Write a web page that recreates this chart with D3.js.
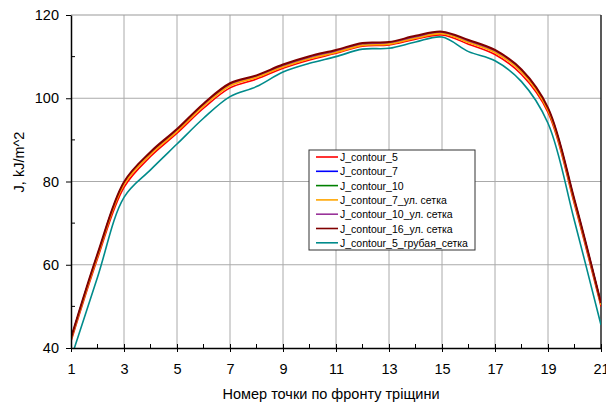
<!DOCTYPE html>
<html>
<head>
  <meta charset="UTF-8">
  <title>J contour</title>
  <script src="https://d3js.org/d3.v7.min.js"></script>
  <style type="text/css">
    body { margin: 0; background: #fff; }
    text { font-family: Arial, "Liberation Sans", sans-serif; fill: #000; }
  </style>
</head>
<body>
  <script type="text/javascript">
    // Data: point number along the crack front
    var points = [1, 2, 3, 4, 5, 6, 7, 8, 9, 10, 11, 12, 13, 14, 15, 16, 17, 18, 19, 20, 21];

    var contour5 = [41.6, 61.5, 78.6, 86.0, 91.6, 97.6, 102.5, 104.6, 107.2, 109.2, 110.8, 112.5, 112.8, 114.2, 115.2, 113.0, 110.5, 105.7, 96.6, 74.5, 50.0];
    var contour7 = [42.2, 62.3, 79.6, 86.8, 92.3, 98.4, 103.3, 105.2, 107.8, 109.8, 111.3, 113.0, 113.3, 114.7, 115.8, 113.7, 111.3, 106.6, 97.4, 75.3, 50.6];
    var contour10 = [42.2, 62.3, 79.6, 86.8, 92.3, 98.4, 103.3, 105.2, 107.8, 109.8, 111.3, 113.0, 113.3, 114.7, 115.8, 113.7, 111.3, 106.6, 97.4, 75.3, 50.6];
    var contour7fine = [42.0, 62.0, 79.3, 86.5, 92.0, 98.1, 103.0, 105.0, 107.5, 109.5, 111.0, 112.7, 113.0, 114.4, 115.5, 113.4, 111.0, 106.3, 97.1, 75.0, 50.4];
    var contour10fine = [42.2, 62.3, 79.6, 86.8, 92.3, 98.4, 103.3, 105.2, 107.8, 109.8, 111.3, 113.0, 113.3, 114.7, 115.8, 113.7, 111.3, 106.6, 97.4, 75.3, 50.6];
    var contour16fine = [42.4, 62.6, 79.9, 87.1, 92.6, 98.7, 103.6, 105.5, 108.1, 110.1, 111.6, 113.3, 113.5, 115.0, 116.0, 114.0, 111.6, 106.9, 97.7, 75.6, 50.8];
    var contour5coarse = [37.5, 57.0, 76.2, 82.8, 89.0, 95.2, 100.4, 102.8, 106.3, 108.4, 110.0, 111.8, 112.0, 113.5, 114.7, 111.2, 109.0, 104.0, 94.0, 70.5, 45.5];

    var seriesNames = ['J_contour_5', 'J_contour_7', 'J_contour_10', 'J_contour_7_ул. сетка',
      'J_contour_10_ул. сетка', 'J_contour_16_ул. сетка', 'J_contour_5_грубая_сетка'];
    var seriesColors = ['#ff0000', '#0000ff', '#008000', '#ffa500', '#993399', '#800000', '#008b8b'];
    var seriesValues = [contour5, contour7, contour10, contour7fine, contour10fine, contour16fine, contour5coarse];

    var xTicks = [1, 3, 5, 7, 9, 11, 13, 15, 17, 19, 21];
    var yTicks = [40, 60, 80, 100, 120];

    var margin = { top: 15, right: 5, bottom: 57, left: 71 },
      width = 606 - margin.left - margin.right,
      height = 405 - margin.top - margin.bottom;

    var x = d3.scaleLinear().domain([1, 21]).range([0, width]);
    var y = d3.scaleLinear().domain([40, 120]).range([height, 0]);

    var svg = d3.select('body').append('svg')
      .attr('width', 606)
      .attr('height', 405);

    var g = svg.append('g')
      .attr('transform', 'translate(' + margin.left + ',' + margin.top + ')');

    // clip path for lines
    g.append('clipPath').attr('id', 'clip')
      .append('rect').attr('width', width).attr('height', height);

    // grid lines
    g.selectAll('.vgrid')
      .data(xTicks.slice(1, -1))
      .enter().append('line')
      .attr('x1', function (d) { return x(d); })
      .attr('x2', function (d) { return x(d); })
      .attr('y1', 0).attr('y2', height)
      .style('stroke', '#aaa').style('stroke-width', 1);

    g.selectAll('.hgrid')
      .data(yTicks.slice(1, -1))
      .enter().append('line')
      .attr('x1', 0).attr('x2', width)
      .attr('y1', function (d) { return y(d); })
      .attr('y2', function (d) { return y(d); })
      .style('stroke', '#aaa').style('stroke-width', 1);

    // top and right borders
    g.append('line').attr('x1', 0).attr('x2', width).attr('y1', 0).attr('y2', 0)
      .style('stroke', '#999').style('stroke-width', 1);
    g.append('line').attr('x1', width).attr('x2', width).attr('y1', 0).attr('y2', height)
      .style('stroke', '#222').style('stroke-width', 1.5);

    // lines
    var line = d3.line()
      .x(function (d, i) { return x(points[i]); })
      .y(function (d) { return y(d); })
      .curve(d3.curveCatmullRom.alpha(0.5));

    var order = [6, 0, 1, 2, 4, 3, 5];
    order.forEach(function (k) {
      g.append('path')
        .datum(seriesValues[k])
        .attr('clip-path', 'url(#clip)')
        .attr('d', line)
        .style('fill', 'none')
        .style('stroke', seriesColors[k])
        .style('stroke-width', k === 5 ? 2 : 1.6);
    });

    // x axis
    var xAxis = g.append('g')
      .attr('transform', 'translate(0,' + height + ')')
      .call(d3.axisBottom(x).tickValues(xTicks).tickFormat(d3.format('d')).tickSizeInner(4).tickSizeOuter(0).tickPadding(12));
    xAxis.selectAll('.tick line').attr('y1', -4);
    xAxis.selectAll('text').style('font-size', '14.5px');
    xAxis.select('.domain').style('stroke-width', 1.5);
    xAxis.selectAll('.minor')
      .data(d3.range(2, 21, 2))
      .enter().append('line')
      .attr('x1', function (d) { return x(d); })
      .attr('x2', function (d) { return x(d); })
      .attr('y1', 0).attr('y2', -4)
      .style('stroke', '#000');

    // y axis
    var yAxis = g.append('g')
      .call(d3.axisLeft(y).tickValues(yTicks).tickSizeInner(5).tickSizeOuter(0).tickPadding(7));
    yAxis.selectAll('text').style('font-size', '14.5px');
    yAxis.select('.domain').style('stroke-width', 1.5);
    yAxis.selectAll('.minor')
      .data([50, 70, 90, 110])
      .enter().append('line')
      .attr('x1', 0).attr('x2', 4)
      .attr('y1', function (d) { return y(d); })
      .attr('y2', function (d) { return y(d); })
      .style('stroke', '#000');

    // axis titles
    svg.append('text')
      .attr('transform', 'translate(331,399)')
      .style('text-anchor', 'middle')
      .style('font-size', '14.5px')
      .text('Номер точки по фронту тріщини');

    svg.append('text')
      .attr('transform', 'translate(24,162) rotate(-90)')
      .style('text-anchor', 'middle')
      .style('font-size', '14.5px')
      .text('J, kJ/m^2');

    // legend
    var legend = svg.append('g').attr('transform', 'translate(309,150)');
    legend.append('rect')
      .attr('width', 166).attr('height', 100)
      .style('fill', '#fff').style('stroke', '#333').style('stroke-width', 1);

    seriesNames.forEach(function (name, i) {
      var row = legend.append('g').attr('transform', 'translate(0,' + (7 + i * 14.3) + ')');
      row.append('line')
        .attr('x1', 7).attr('x2', 29).attr('y1', 0).attr('y2', 0)
        .style('stroke', seriesColors[i]).style('stroke-width', 1.6);
      row.append('text')
        .attr('x', 31).attr('y', 4)
        .style('font-size', '10.5px')
        .text(name);
    });
  </script>
</body>
</html>
